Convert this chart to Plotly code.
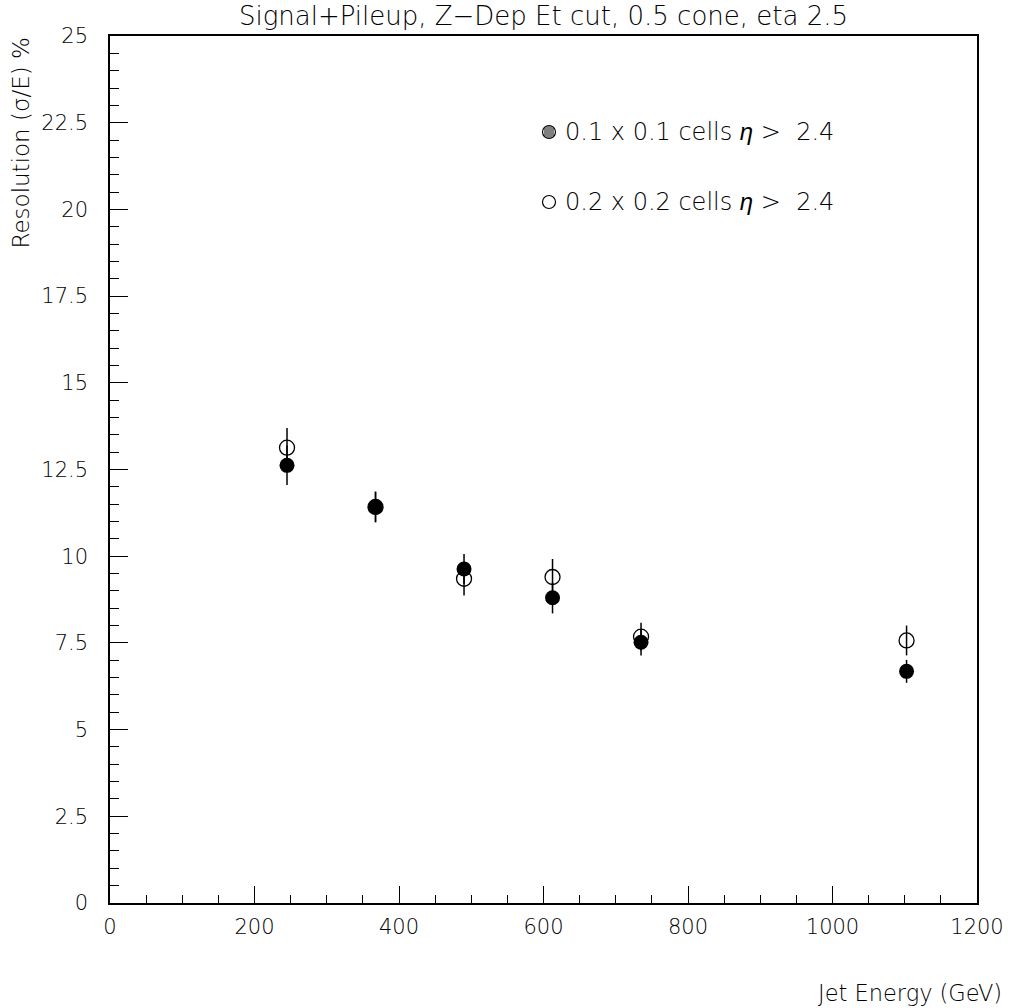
import math
import plotly.graph_objects as go

# Jet energies (GeV) and resolution sigma/E in percent
energy = [245, 367.5, 490, 612.5, 735, 1102.5]

res_01 = [12.62, 11.42, 9.63, 8.80, 7.52, 6.68]      # 0.1 x 0.1 cells
err_01 = [0.57, 0.44, 0.43, 0.45, 0.38, 0.33]

res_02 = [13.13, 11.42, 9.35, 9.40, 7.68, 7.57]      # 0.2 x 0.2 cells
err_02 = [0.57, 0.44, 0.48, 0.52, 0.40, 0.43]

ETA = "<span style='font-family:Liberation Sans'><i>η</i></span>"
legend_labels = [f"0.1 x 0.1 cells {ETA} >  2.4", f"0.2 x 0.2 cells {ETA} >  2.4"]

FONT = "DejaVu Sans"
WEIGHT = 200
W, H = 1011, 1008
L, R, T, B = 110, 34, 36, 105
PW, PH = W - L - R, H - T - B


def px_to_paper(px, py):
    return (px - L) / PW, 1 - (py - T) / PH


fig = go.Figure()

fig.add_trace(go.Scatter(
    x=energy, y=res_02, mode="markers",
    marker=dict(symbol="circle-open", size=15, color="black", line=dict(width=1.3, color="black")),
    error_y=dict(type="data", array=err_02, width=0, thickness=1.5, color="black"),
    showlegend=False,
))
fig.add_trace(go.Scatter(
    x=energy, y=res_01, mode="markers",
    marker=dict(symbol="circle", size=15, color="black", line=dict(width=0)),
    error_y=dict(type="data", array=err_01, width=0, thickness=1.5, color="black"),
    showlegend=False,
))

axis_common = dict(
    showline=True, linecolor="black", linewidth=1.5, mirror=True,
    ticks="inside", tickcolor="black", tickwidth=1.2,
    showgrid=False, zeroline=False, automargin=False,
    tickfont=dict(family=FONT, size=21, color="black", weight=WEIGHT),
)

fig.update_xaxes(
    range=[0, 1200], tick0=0, dtick=200, ticklen=17, ticklabelstandoff=4,
    minor=dict(ticks="inside", dtick=50, ticklen=8, tickcolor="black", tickwidth=1.2),
    **axis_common,
)
fig.update_yaxes(
    range=[0, 25], tick0=0, dtick=2.5, ticklen=18, ticklabelstandoff=16,
    minor=dict(ticks="inside", dtick=0.5, ticklen=9, tickcolor="black", tickwidth=1.2),
    **axis_common,
)

ann = []
shapes = []
# Legend entries: glyph drawn as a small circle, hatched for the 0.1 x 0.1 cells
SYM_X, SYM_R = 549, 6.5
for i, lab in enumerate(legend_labels):
    ypix = 132 + 70 * i
    x0, y0 = px_to_paper(SYM_X - SYM_R, ypix + SYM_R)
    x1, y1 = px_to_paper(SYM_X + SYM_R, ypix - SYM_R)
    shapes.append(dict(type="circle", xref="paper", yref="paper",
                       x0=x0, y0=y0, x1=x1, y1=y1,
                       line=dict(color="black", width=1.2), fillcolor="white"))
    if i == 0:
        for dx in (-4, -2, 0, 2, 4):
            half = math.sqrt(max(SYM_R ** 2 - dx ** 2, 0)) - 0.5
            lx, ly0 = px_to_paper(SYM_X + dx, ypix + half)
            _, ly1 = px_to_paper(SYM_X + dx, ypix - half)
            shapes.append(dict(type="line", xref="paper", yref="paper",
                               x0=lx, y0=ly0, x1=lx, y1=ly1,
                               line=dict(color="black", width=1)))
    tx, ty = px_to_paper(563, ypix)
    ann.append(dict(
        xref="paper", yref="paper", x=tx, y=ty,
        text=lab, showarrow=False, xanchor="left", yanchor="middle",
        font=dict(family=FONT, size=24, color="black", weight=WEIGHT),
    ))

# Axis titles
ann.append(dict(
    xref="paper", yref="paper", x=(20 - L) / PW, y=1.0,
    text="Resolution (σ/E) %", textangle=-90, showarrow=False,
    xanchor="center", yanchor="top",
    font=dict(family=FONT, size=23, color="black", weight=WEIGHT),
))
ann.append(dict(
    xref="paper", yref="paper", x=(1004 - L) / PW, y=-(993 - 903) / PH,
    text="Jet Energy (GeV)", showarrow=False,
    xanchor="right", yanchor="middle",
    font=dict(family=FONT, size=22.5, color="black", weight=WEIGHT),
))

fig.update_layout(
    width=W, height=H,
    margin=dict(l=L, r=R, t=T, b=B),
    paper_bgcolor="white", plot_bgcolor="white",
    title=dict(
        text="Signal+Pileup, Z−Dep Et cut, 0.5 cone, eta 2.5",
        x=543.5 / W, xanchor="center", y=1 - 16 / H, yanchor="middle",
        xref="container",
        font=dict(family=FONT, size=26, color="black", weight=WEIGHT),
    ),
    annotations=ann,
    shapes=shapes,
)

fig.write_html("out.html")
